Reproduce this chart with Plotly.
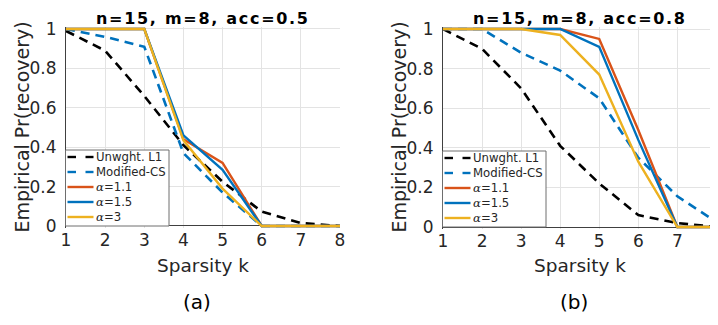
import plotly.graph_objects as go

W, H = 718, 325
OFF = 8  # page body margin offset

k = [1, 2, 3, 4, 5, 6, 7, 8]
names = ["Unwght. L1", "Modified-CS", "α=1.1", "α=1.5", "α=3"]

# panel (a): acc=0.5
a_unw = [0.99, 0.89, 0.66, 0.41, 0.225, 0.073, 0.015, 0.0]
a_mcs = [1.0, 0.96, 0.91, 0.37, 0.17, 0.0, 0.0, 0.0]
a_11 = [1.0, 1.0, 1.0, 0.44, 0.32, 0.0, 0.0, 0.0]
a_15 = [1.0, 1.0, 1.0, 0.46, 0.285, 0.0, 0.0, 0.0]
a_3 = [1.0, 1.0, 1.0, 0.435, 0.19, 0.0, 0.0, 0.0]

# panel (b): acc=0.8
b_unw = [1.0, 0.9, 0.70, 0.41, 0.22, 0.06, 0.02, 0.0]
b_mcs = [1.0, 1.0, 0.88, 0.79, 0.65, 0.35, 0.155, 0.025]
b_11 = [1.0, 1.0, 1.0, 1.0, 0.95, 0.49, 0.0, 0.0]
b_15 = [1.0, 1.0, 1.0, 1.0, 0.91, 0.44, 0.0, 0.0]
b_3 = [1.0, 1.0, 1.0, 0.97, 0.77, 0.33, 0.0, 0.0]

titles = ["n=15, m=8, acc=0.5", "n=15, m=8, acc=0.8"]
panel_labels = ["(a)", "(b)"]
yticks = [0, 0.2, 0.4, 0.6, 0.8, 1]

colors = ["#000000", "#0072BD", "#D95319", "#0072BD", "#EDB120"]
dashes = ["9px,6px", "9px,6px", "solid", "solid", "solid"]
widths = [2.6, 2.6, 2.4, 2.4, 2.4]

def px(x):
    return (x - OFF) / W

def py(y):
    return 1 - (y - OFF) / H

PAD = 0.012
fig = go.Figure()

panels = [
    dict(data=[a_unw, a_mcs, a_11, a_15, a_3], x0=66, x1=340, ytop=29, ybot=226,
         xa="x", ya="y"),
    dict(data=[b_unw, b_mcs, b_11, b_15, b_3], x0=443, x1=716.4, ytop=29, ybot=227,
         xa="x2", ya="y2"),
]

for p in panels:
    for name, vals, c, d, w in zip(names, p["data"], colors, dashes, widths):
        fig.add_trace(go.Scatter(x=k, y=vals, mode="lines", name=name,
                                 line=dict(color=c, dash=d, width=w),
                                 xaxis=p["xa"], yaxis=p["ya"], showlegend=False))

axfont = dict(family="DejaVu Sans", size=17, color="#262626")
layout = dict(width=W, height=H, margin=dict(l=0, r=0, t=0, b=0, autoexpand=False),
              plot_bgcolor="white", paper_bgcolor="white", showlegend=False)

for i, p in enumerate(panels):
    sfx = "" if i == 0 else "2"
    unit = p["ybot"] - p["ytop"]
    dtop = p["ytop"] - PAD * unit
    dbot = p["ybot"] + PAD * unit
    layout["xaxis" + sfx] = dict(
        domain=[px(p["x0"]), px(p["x1"])], range=[1, 8], anchor="y" + sfx,
        tickvals=k, ticktext=[str(v) for v in k], showgrid=True,
        gridcolor="#e3e3e3", gridwidth=1, zeroline=False, showline=False,
        tickfont=axfont, ticks="", ticklabelstandoff=0, automargin=False)
    layout["yaxis" + sfx] = dict(
        domain=[py(dbot), py(dtop)], range=[-PAD, 1 + PAD], anchor="x" + sfx,
        tickvals=yticks, ticktext=["0", "0.2", "0.4", "0.6", "0.8", "1"],
        showgrid=True, gridcolor="#e3e3e3", gridwidth=1,
        zeroline=True, zerolinecolor="#404040", zerolinewidth=1,
        showline=True, linecolor="#404040", linewidth=1,
        tickfont=axfont, ticks="", ticklabelstandoff=5, automargin=False)

fig.update_layout(**layout)

ann = []
shapes = []
for i, p in enumerate(panels):
    cx = (p["x0"] + p["x1"]) / 2
    ann.append(dict(text="<b><span style='letter-spacing:1.7px'>" + titles[i] + "</span></b>",
                    x=px(cx), y=py(OFF), borderpad=0,
                    xref="paper", yref="paper", showarrow=False,
                    xanchor="center", yanchor="top",
                    font=dict(family="DejaVu Sans", size=16, color="#000")))
    ann.append(dict(text="Sparsity k", x=px(cx), y=py(265),
                    xref="paper", yref="paper", showarrow=False,
                    xanchor="center", yanchor="middle",
                    font=dict(family="DejaVu Sans", size=18.5, color="#262626")))
    ann.append(dict(text="Empirical Pr(recovery)", x=px(p["x0"] - 45), y=py(127.5),
                    xref="paper", yref="paper", showarrow=False, textangle=-90,
                    xanchor="center", yanchor="middle",
                    font=dict(family="DejaVu Sans", size=19, color="#262626")))
    ann.append(dict(text=panel_labels[i], x=px(cx - 6), y=py(302),
                    xref="paper", yref="paper", showarrow=False,
                    xanchor="center", yanchor="middle",
                    font=dict(family="DejaVu Sans", size=20, color="#000")))

    # legend box
    lx0 = p["x0"] - 0.5
    lx1 = lx0 + 103.5
    ly1 = p["ybot"]
    ly0 = ly1 - 76
    shapes.append(dict(type="rect", xref="paper", yref="paper",
                       x0=px(lx0), x1=px(lx1), y0=py(ly1), y1=py(ly0),
                       fillcolor="white", line=dict(color="#6e6e6e", width=1),
                       layer="above"))
    for j, (name, c, d) in enumerate(zip(names, colors, dashes)):
        ry = ly0 + 7 + 15 * j
        sx0, sx1 = lx0 + 2, lx0 + 28
        if d == "solid":
            segs = [(sx0, sx1)]
        else:
            segs = [(sx0, sx0 + 8.5), (sx1 - 8, sx1)]
        for s0, s1 in segs:
            shapes.append(dict(type="line", xref="paper", yref="paper",
                               x0=px(s0), x1=px(s1), y0=py(ry), y1=py(ry),
                               line=dict(color=c, width=2.4), layer="above"))
        if name.startswith("α"):
            label = "<span style='font-family:DejaVu Serif'><i>α</i></span>" + name[1:]
        else:
            label = name
        ann.append(dict(text=label, x=px(sx1), y=py(ry),
                        xref="paper", yref="paper", showarrow=False,
                        xanchor="left", yanchor="middle",
                        font=dict(family="DejaVu Sans", size=11.7, color="#262626")))

fig.update_layout(annotations=ann, shapes=shapes)
fig.write_html("out.html")
